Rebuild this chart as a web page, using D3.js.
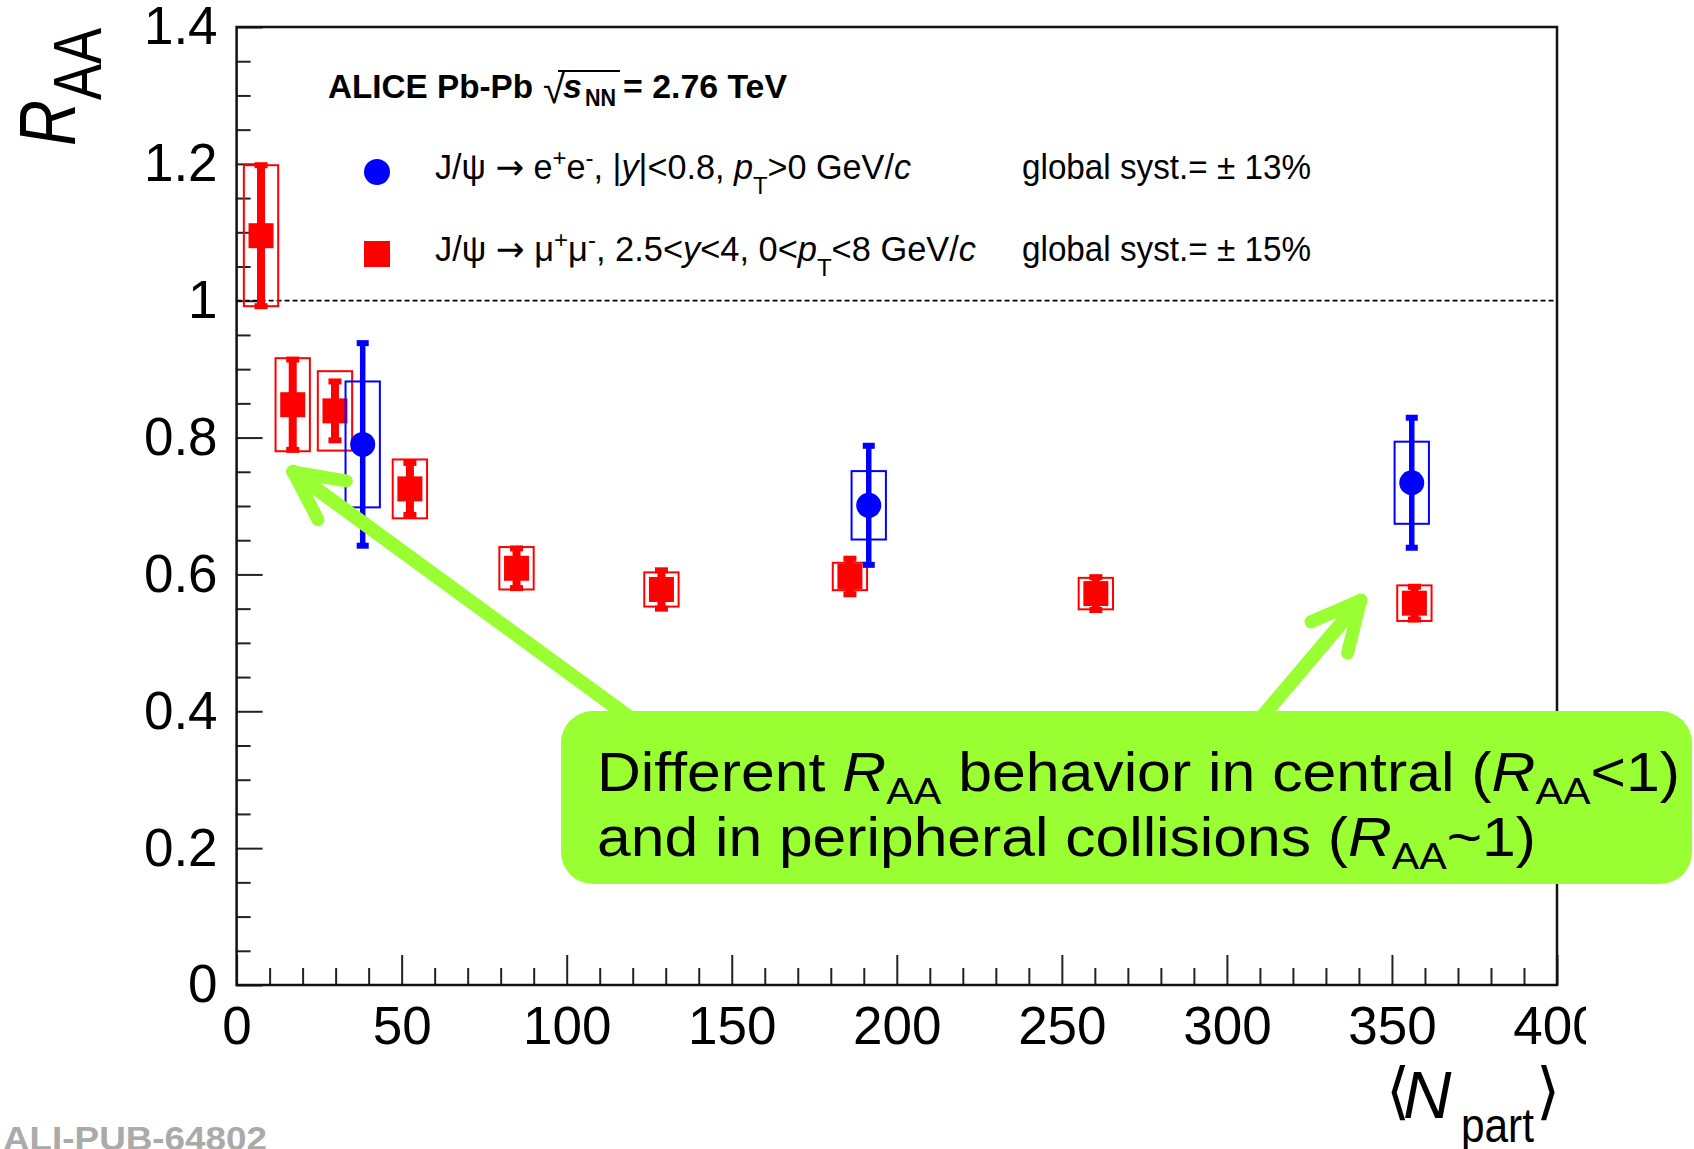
<!DOCTYPE html>
<html>
<head>
<meta charset="utf-8">
<script src="https://cdn.jsdelivr.net/npm/d3@7"></script>
<style>
  html, body { margin: 0; padding: 0; background: #fff; }
  svg { display: block; }
  text { font-family: "Liberation Sans", Arial, sans-serif; }
</style>
</head>
<body>
<script>
// --- data ---
// forward rapidity, J/psi -> mu+ mu-
const muNpart = [7.4, 17.0, 29.8, 52.5, 84.8, 128.7, 185.8, 260.3, 356.8];
const muRaa   = [1.095, 0.848, 0.839, 0.725, 0.609, 0.578, 0.597, 0.572, 0.558];
const muStat  = [0.103, 0.066, 0.043, 0.038, 0.029, 0.028, 0.026, 0.024, 0.024];
const muSyst  = [0.103, 0.068, 0.058, 0.043, 0.031, 0.025, 0.020, 0.023, 0.026];

// mid rapidity, J/psi -> e+ e-
const eeNpart = [38.2, 191.5, 356.0];
const eeRaa   = [0.790, 0.701, 0.734];
const eeStat  = [0.148, 0.087, 0.095];
const eeSyst  = [0.092, 0.050, 0.060];

const boxHalfWidth = 5.2; // in Npart units

const xMajor = [0, 50, 100, 150, 200, 250, 300, 350, 400];
const xLabels = ["0", "50", "100", "150", "200", "250", "300", "350", "400"];
const yMajor = [0, 0.2, 0.4, 0.6, 0.8, 1.0, 1.2, 1.4];
const yLabels = ["0", "0.2", "0.4", "0.6", "0.8", "1", "1.2", "1.4"];

// arrow tips of the annotation, in data coordinates
const arrowTips = [[17.1, 0.750], [340.5, 0.562]];

const WIDTH = 1694, HEIGHT = 1149;
const GREEN = "#99ff33";

const svg = d3.select("body").append("svg")
  .attr("width", WIDTH).attr("height", HEIGHT);

const x = d3.scaleLinear().domain([0, 400]).range([236.6, 1557]);
const y = d3.scaleLinear().domain([0, 1.4]).range([985, 27]);

// rich text helper: segments with italic / sub / sup
function rich(g, px, py, size, segs, len) {
  const t = g.append("text").attr("x", px).attr("y", py).attr("font-size", size);
  let shift = 0;
  segs.forEach(function(s) {
    const target = s.sub ? size * (s.subOff || 0.3) : s.sup ? -size * 0.38 : 0;
    const sp = t.append("tspan").text(s.t).attr("dy", target - shift);
    shift = target;
    if (s.sub || s.sup) sp.attr("font-size", size * (s.scale || 0.7));
    if (s.it) sp.attr("font-style", "italic");
    if (s.font) sp.attr("font-family", s.font);
  });
  if (len) t.attr("textLength", len).attr("lengthAdjust", "spacingAndGlyphs");
  return t;
}

// --- axes ---
const xMinor = x.ticks(40).filter(d => d % 50 !== 0);
svg.append("g")
  .attr("transform", "translate(0," + y(0) + ")")
  .call(d3.axisBottom(x).tickValues(xMinor).tickSize(-17).tickFormat(""))
  .call(g => g.select(".domain").remove());

svg.append("clipPath").attr("id", "xclip")
  .append("rect").attr("x", -100).attr("y", -100).attr("width", 1686).attr("height", 300);

const xAxis = svg.append("g")
  .attr("transform", "translate(0," + y(0) + ")")
  .attr("clip-path", "url(#xclip)")
  .call(d3.axisBottom(x).tickValues(xMajor).tickSize(-30).tickPadding(21)
    .tickFormat((d, i) => xLabels[i]));
xAxis.select(".domain").remove();

const yMinor = d3.range(0, 1.401, 0.05).filter(d => Math.abs(d * 5 - Math.round(d * 5)) > 1e-6);
svg.append("g")
  .attr("transform", "translate(" + x(0) + ",0)")
  .call(d3.axisLeft(y).tickValues(yMinor).tickSize(-14).tickFormat(""))
  .call(g => g.select(".domain").remove());

const yAxis = svg.append("g")
  .attr("transform", "translate(" + x(0) + ",0)")
  .call(d3.axisLeft(y).tickValues(yMajor).tickSize(-26).tickPadding(19)
    .tickFormat((d, i) => yLabels[i]));
yAxis.select(".domain").remove();

svg.selectAll(".tick line").attr("stroke", "#222").attr("stroke-width", 2);
svg.selectAll(".tick text")
  .attr("font-family", "'Liberation Sans', Arial, sans-serif")
  .attr("font-size", 53).attr("fill", "#000");

// dashed line at RAA = 1
svg.append("line")
  .attr("x1", x(0)).attr("x2", x(399))
  .attr("y1", y(1)).attr("y2", y(1))
  .attr("stroke", "#000").attr("stroke-width", 1.8)
  .attr("stroke-dasharray", "5,3");

// --- data marks ---
function series(xs, ys, stat, syst, color, barW, capW, kind) {
  const g = svg.append("g");
  const idx = d3.range(xs.length);
  // systematic boxes
  g.selectAll("rect.syst").data(idx).enter().append("rect")
    .attr("x", i => x(xs[i] - boxHalfWidth))
    .attr("width", i => x(xs[i] + boxHalfWidth) - x(xs[i] - boxHalfWidth))
    .attr("y", i => y(ys[i] + syst[i]))
    .attr("height", i => y(ys[i] - syst[i]) - y(ys[i] + syst[i]))
    .attr("fill", "none").attr("stroke", color).attr("stroke-width", 2);
  // stat bars
  g.selectAll("line.stat").data(idx).enter().append("line")
    .attr("x1", i => x(xs[i])).attr("x2", i => x(xs[i]))
    .attr("y1", i => y(ys[i] + stat[i])).attr("y2", i => y(ys[i] - stat[i]))
    .attr("stroke", color).attr("stroke-width", barW);
  [1, -1].forEach(function(sgn) {
    g.selectAll("rect.cap" + sgn).data(idx).enter().append("rect")
      .attr("x", i => x(xs[i]) - capW / 2).attr("width", capW)
      .attr("y", i => y(ys[i] + sgn * stat[i]) - 3).attr("height", 6)
      .attr("fill", color);
  });
  // markers
  if (kind === "square") {
    g.selectAll("rect.m").data(idx).enter().append("rect")
      .attr("x", i => x(xs[i]) - 12.5).attr("y", i => y(ys[i]) - 12.5)
      .attr("width", 25).attr("height", 25).attr("fill", color);
  } else {
    g.selectAll("circle").data(idx).enter().append("circle")
      .attr("cx", i => x(xs[i])).attr("cy", i => y(ys[i]))
      .attr("r", 12.5).attr("fill", color);
  }
}
series(muNpart, muRaa, muStat, muSyst, "#ff0000", 8, 13, "square");
series(eeNpart, eeRaa, eeStat, eeSyst, "#0000ff", 5.5, 12, "circle");

// frame
svg.append("rect")
  .attr("x", x(0)).attr("y", y(1.4))
  .attr("width", x(400) - x(0)).attr("height", y(0) - y(1.4))
  .attr("fill", "none").attr("stroke", "#111").attr("stroke-width", 2.5);

// --- legend ---
const leg = svg.append("g");
leg.append("text").attr("x", 328).attr("y", 98).attr("font-size", 34)
  .attr("font-weight", "bold").attr("textLength", 205).attr("lengthAdjust", "spacingAndGlyphs")
  .text("ALICE Pb-Pb");
leg.append("text").attr("x", 543).attr("y", 103).attr("font-size", 40).text("√");
leg.append("line").attr("x1", 558).attr("x2", 620).attr("y1", 71).attr("y2", 71)
  .attr("stroke", "#000").attr("stroke-width", 2);
leg.append("text").attr("x", 563).attr("y", 98).attr("font-size", 34)
  .attr("font-weight", "bold").attr("font-style", "italic").text("s");
leg.append("text").attr("x", 585).attr("y", 106).attr("font-size", 24)
  .attr("font-weight", "bold").attr("textLength", 31).attr("lengthAdjust", "spacingAndGlyphs")
  .text("NN");
leg.append("text").attr("x", 623).attr("y", 98).attr("font-size", 34)
  .attr("font-weight", "bold").attr("textLength", 164).attr("lengthAdjust", "spacingAndGlyphs")
  .text("= 2.76 TeV");

leg.append("circle").attr("cx", 377).attr("cy", 172).attr("r", 13).attr("fill", "#0000ff");
leg.append("rect").attr("x", 364).attr("y", 241).attr("width", 26).attr("height", 26).attr("fill", "#ff0000");

const ARROWFONT = "'DejaVu Sans', sans-serif";
rich(leg, 435, 179, 35, [
  {t: "J/ψ "}, {t: "→", font: ARROWFONT}, {t: " e"}, {t: "+", sup: 1}, {t: "e"}, {t: "-", sup: 1}, {t: ", |"},
  {t: "y", it: 1}, {t: "|<0.8, "}, {t: "p", it: 1}, {t: "T", sub: 1, subOff: 0.42},
  {t: ">0 GeV/"}, {t: "c", it: 1}
], 476);
rich(leg, 435, 261, 35, [
  {t: "J/ψ "}, {t: "→", font: ARROWFONT}, {t: " μ"}, {t: "+", sup: 1}, {t: "μ"}, {t: "-", sup: 1}, {t: ", 2.5<"},
  {t: "y", it: 1}, {t: "<4, 0<"}, {t: "p", it: 1}, {t: "T", sub: 1, subOff: 0.42},
  {t: "<8 GeV/"}, {t: "c", it: 1}
], 541);
rich(leg, 1022, 179, 35, [{t: "global syst.= ± 13%"}], 289);
rich(leg, 1022, 261, 35, [{t: "global syst.= ± 15%"}], 289);

// --- axis titles ---
const yTitle = svg.append("g").attr("transform", "translate(75,146) rotate(-90)");
rich(yTitle, 0, 0, 80, [{t: "R", it: 1}, {t: "AA", sub: 1, subOff: 0.32, scale: 0.85}], 118);

svg.append("text").attr("x", 1386).attr("y", 1112).attr("font-size", 62)
  .attr("font-family", "'DejaVu Sans', sans-serif").attr("font-weight", 200).text("⟨");
svg.append("text").attr("x", 1403).attr("y", 1118).attr("font-size", 67)
  .attr("font-style", "italic").text("N");
svg.append("text").attr("x", 1461).attr("y", 1142).attr("font-size", 48)
  .attr("textLength", 73).attr("lengthAdjust", "spacingAndGlyphs").text("part");
svg.append("text").attr("x", 1536).attr("y", 1112).attr("font-size", 62)
  .attr("font-family", "'DejaVu Sans', sans-serif").attr("font-weight", 200).text("⟩");

// watermark id
svg.append("text").attr("x", 3).attr("y", 1150).attr("font-size", 34)
  .attr("font-family", "'Liberation Mono', monospace").attr("font-weight", "bold")
  .attr("fill", "#aaa").attr("textLength", 264).attr("lengthAdjust", "spacingAndGlyphs")
  .text("ALI-PUB-64802");

// --- green annotation ---
const ann = svg.append("g");
const tails = [[640, 725], [1255, 725]];
arrowTips.forEach(function(tip, k) {
  const tx = x(tip[0]), ty = y(tip[1]);
  const t = tails[k];
  ann.append("line").attr("x1", t[0]).attr("y1", t[1]).attr("x2", tx).attr("y2", ty)
    .attr("stroke", GREEN).attr("stroke-width", 14).attr("stroke-linecap", "round");
  const ang = Math.atan2(t[1] - ty, t[0] - tx);
  [-0.46, 0.46].forEach(function(da) {
    ann.append("line").attr("x1", tx).attr("y1", ty)
      .attr("x2", tx + 54 * Math.cos(ang + da)).attr("y2", ty + 54 * Math.sin(ang + da))
      .attr("stroke", GREEN).attr("stroke-width", 13).attr("stroke-linecap", "round");
  });
});
ann.append("rect").attr("x", 561).attr("y", 711).attr("width", 1131).attr("height", 173)
  .attr("rx", 32).attr("fill", GREEN);

const cal = ann.append("g");
const CALFONT = "'DejaVu Sans', Verdana, sans-serif";
rich(cal, 597, 791, 55, [
  {t: "Different "}, {t: "R", it: 1}, {t: "AA", sub: 1, subOff: 0.24, scale: 0.68},
  {t: " behavior in central ("}, {t: "R", it: 1}, {t: "AA", sub: 1, subOff: 0.24, scale: 0.68},
  {t: "<1)"}
], 1083).attr("font-family", CALFONT);
rich(cal, 597, 856, 55, [
  {t: "and in peripheral collisions ("}, {t: "R", it: 1},
  {t: "AA", sub: 1, subOff: 0.24, scale: 0.68}, {t: "~1)"}
], 939).attr("font-family", CALFONT);
</script>
</body>
</html>
